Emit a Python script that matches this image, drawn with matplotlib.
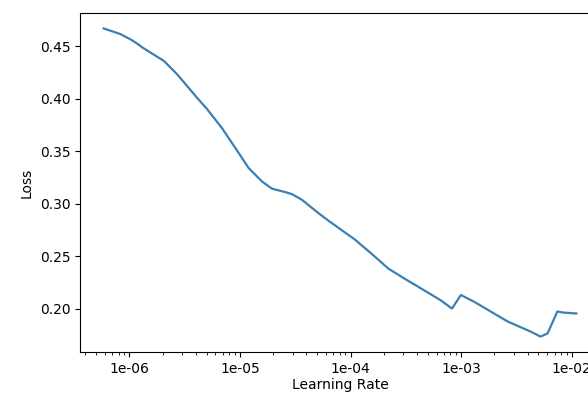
import numpy as np
import matplotlib
matplotlib.use('Agg')
import matplotlib.pyplot as plt

# Learning rate finder values
lrs = [5.87e-7, 8.36e-7, 1.03e-6, 1.19e-6, 1.32e-6, 2.07e-6, 2.72e-6, 4.11e-6,
       5.06e-6, 6.90e-6, 9.10e-6, 1.20e-5, 1.58e-5, 1.95e-5, 2.56e-5, 2.94e-5,
       3.62e-5, 5.16e-5, 6.46e-5, 1.09e-4, 1.54e-4, 2.19e-4, 3.06e-4, 4.35e-4,
       6.58e-4, 8.26e-4, 9.95e-4, 1.30e-3, 2.63e-3, 4.24e-3, 5.21e-3, 6.03e-3,
       7.41e-3, 8.39e-3, 1.10e-2]
losses = [0.4669, 0.4614, 0.4564, 0.4522, 0.4486, 0.4357, 0.4230, 0.4007,
          0.3900, 0.3718, 0.3530, 0.3339, 0.3212, 0.3142, 0.3110, 0.3091,
          0.3038, 0.2907, 0.2830, 0.2659, 0.2525, 0.2382, 0.2287, 0.2191,
          0.2077, 0.2000, 0.2129, 0.2067, 0.1877, 0.1781, 0.1733, 0.1762,
          0.1972, 0.1962, 0.1953]

fig = plt.figure(figsize=(5.88, 3.99), dpi=100)
# axes runs past the right edge, as in the cropped original
ax = fig.add_axes([80 / 588, 47 / 399, 520 / 588, 339 / 399])

ax.plot(lrs, losses, color='#3a80b5', linewidth=1.6)
ax.set_xscale('log')
ax.xaxis.set_major_formatter(plt.FormatStrFormatter('%.0e'))

ax.set_xlabel('Learning Rate', fontsize=10, labelpad=2)
ax.set_ylabel('Loss', fontsize=10)
ax.tick_params(labelsize=10)

fig.savefig('out.png', dpi=100)
